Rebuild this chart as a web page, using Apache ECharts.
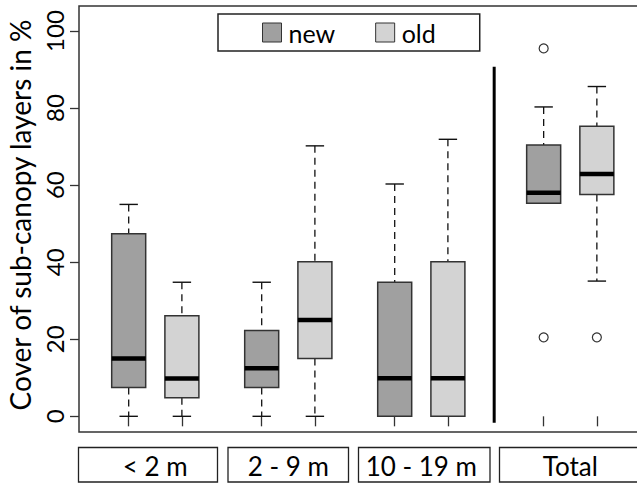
<!DOCTYPE html>
<html>
<head>
<meta charset="utf-8">
<script src="https://cdn.jsdelivr.net/npm/echarts@6/dist/echarts.min.js"></script>
<style>
html,body{margin:0;padding:0;background:#fff;}
#chart{width:637px;height:483px;}
</style>
</head>
<body>
<div id="chart"></div>
<script>
// ---- data ----
const categories = ['< 2 m', '2 - 9 m', '10 - 19 m', 'Total'];
const seriesNames = ['new', 'old'];
// [min, Q1, median, Q3, max] per category
const newStats = [
  [0, 7.5, 15, 47.4, 55],
  [0, 7.5, 12.5, 22.3, 34.8],
  [0, 0, 9.9, 34.8, 60.3],
  [55.3, 55.3, 58, 70.4, 80.3]
];
const oldStats = [
  [0, 4.8, 9.8, 26.1, 34.8],
  [0, 15, 25, 40.1, 70.2],
  [0, 0, 9.9, 40.1, 71.9],
  [35.1, 57.6, 62.9, 75.3, 85.6]
];
// outliers: [categoryIndex, value]
const newOutliers = [[3, 95.5], [3, 20.5]];
const oldOutliers = [[3, 20.5]];
const yTicks = [0, 20, 40, 60, 80, 100];
const yTitle = 'Cover of sub-canopy layers in %';

// ---- layout (positions on the numeric x scale) ----
const newPos = [1, 3.5, 6, 8.8];
const oldPos = [2, 4.5, 7, 9.8];
const dividerPos = 7.87;
const dividerRange = [-1.7, 90.7];
const labelBoxes = [[78.5, 139], [228, 120.5], [358.5, 131.5], [499.5, 150]]; // px left, width

const colors = { new: '#a0a0a0', old: '#d3d3d3' };
const FONT = 'Lato';

function boxData(stats, pos) {
  return stats.map((s, i) => [pos[i]].concat(s));
}
function outlierData(outs, pos) {
  return outs.map(o => [pos[o[0]], o[1]]);
}

function renderBox(params, api) {
  const x = api.value(0);
  const mn = api.value(1), q1 = api.value(2), md = api.value(3), q3 = api.value(4), mx = api.value(5);
  const pMin = api.coord([x, mn]), pQ1 = api.coord([x, q1]), pMd = api.coord([x, md]),
        pQ3 = api.coord([x, q3]), pMax = api.coord([x, mx]);
  const cx = pMin[0];
  const bw = 34, cw = 18.4;
  const wStyle = { stroke: '#111', lineWidth: 1.3, lineDash: [7, 5] };
  const cStyle = { stroke: '#111', lineWidth: 1.4 };
  const children = [];
  if (pMin[1] - pQ1[1] > 0.5) {
    children.push({ type: 'line', shape: { x1: cx, y1: pQ1[1], x2: cx, y2: pMin[1] }, style: wStyle });
  }
  if (pQ3[1] - pMax[1] > 0.5) {
    children.push({ type: 'line', shape: { x1: cx, y1: pMax[1], x2: cx, y2: pQ3[1] }, style: wStyle });
  }
  children.push({ type: 'line', shape: { x1: cx - cw / 2, y1: pMin[1], x2: cx + cw / 2, y2: pMin[1] }, style: cStyle });
  children.push({ type: 'line', shape: { x1: cx - cw / 2, y1: pMax[1], x2: cx + cw / 2, y2: pMax[1] }, style: cStyle });
  children.push({ type: 'rect', shape: { x: cx - bw / 2, y: pQ3[1], width: bw, height: pQ1[1] - pQ3[1] },
    style: { fill: api.visual('color'), stroke: '#333', lineWidth: 1.5 } });
  children.push({ type: 'line', shape: { x1: cx - bw / 2, y1: pMd[1], x2: cx + bw / 2, y2: pMd[1] },
    style: { stroke: '#000', lineWidth: 4.5 } });
  return { type: 'group', children: children };
}

const chart = echarts.init(document.getElementById('chart'), null, { renderer: 'svg' });
const allPos = newPos.concat(oldPos).sort((a, b) => a - b);

const option = {
  animation: false,
  backgroundColor: '#fff',
  textStyle: { fontFamily: FONT },
  grid: { left: 79, top: 6, width: 570, bottom: 51, outerBoundsMode: 'none', containLabel: false,
    show: true, borderColor: '#333', borderWidth: 1.5, backgroundColor: 'transparent' },
  legend: {
    data: seriesNames,
    left: 218, top: 14,
    padding: [6, 44, 6, 44],
    itemWidth: 19, itemHeight: 19, itemGap: 40,
    icon: 'rect',
    borderColor: '#222', borderWidth: 1.5,
    itemStyle: { borderColor: '#333', borderWidth: 1 },
    textStyle: { fontFamily: FONT, fontSize: 25, color: '#000', lineHeight: 21, padding: [0, 0, 0, 2] }
  },
  xAxis: {
    type: 'value', min: 0.066, max: 10.78,
    axisLine: { show: false },
    splitLine: { show: false },
    axisTick: { show: true, customValues: allPos, length: 10, lineStyle: { color: '#333', width: 1.3 } },
    axisLabel: { show: false }
  },
  yAxis: {
    type: 'value', min: -4.07, max: 106.5,
    name: yTitle, nameLocation: 'middle', nameGap: 45, nameRotate: 90,
    nameTextStyle: { fontFamily: FONT, fontSize: 28, color: '#000', padding: [0, 0, 0, 8] },
    axisLine: { show: false },
    splitLine: { show: false },
    axisTick: { show: true, customValues: yTicks, length: 9, lineStyle: { color: '#333', width: 1.3 } },
    axisLabel: { customValues: yTicks, rotate: 90, margin: 13, fontFamily: FONT, fontSize: 24, color: '#000' }
  },
  series: [
    { name: 'new', type: 'custom', renderItem: renderBox, itemStyle: { color: colors.new, borderColor: '#333' },
      encode: { x: 0, y: [1, 2, 3, 4, 5] }, data: boxData(newStats, newPos), z: 3 },
    { name: 'old', type: 'custom', renderItem: renderBox, itemStyle: { color: colors.old, borderColor: '#333' },
      encode: { x: 0, y: [1, 2, 3, 4, 5] }, data: boxData(oldStats, oldPos), z: 3 },
    { type: 'scatter', symbol: 'circle', symbolSize: 9,
      itemStyle: { color: '#fff', borderColor: '#000', borderWidth: 1.2 },
      data: outlierData(newOutliers, newPos).concat(outlierData(oldOutliers, oldPos)), z: 4 },
    { type: 'custom', silent: true, z: 2,
      renderItem: function (params, api) {
        const a = api.coord([api.value(0), api.value(1)]);
        const b = api.coord([api.value(0), api.value(2)]);
        return { type: 'line', shape: { x1: a[0], y1: a[1], x2: b[0], y2: b[1] }, style: { stroke: '#000', lineWidth: 3 } };
      },
      encode: { x: 0, y: [1, 2] },
      data: [[dividerPos, dividerRange[0], dividerRange[1]]] }
  ]
};
chart.setOption(option);

// category label boxes under the plot, text centred on each pair of boxes
const graphics = [];
categories.forEach((c, i) => {
  const center = (newPos[i] + oldPos[i]) / 2;
  const px = chart.convertToPixel({ gridIndex: 0 }, [center, 0])[0];
  graphics.push({ type: 'rect', shape: { x: labelBoxes[i][0], y: 447.5, width: labelBoxes[i][1], height: 34.5 },
    style: { fill: '#fff', stroke: '#222', lineWidth: 1.3 } });
  graphics.push({ type: 'text', x: px, y: 466, style: { text: c, fontFamily: FONT, fontSize: 26, fill: '#000',
    textAlign: 'center', textVerticalAlign: 'middle' } });
});
chart.setOption({ graphic: graphics });
</script>
</body>
</html>
